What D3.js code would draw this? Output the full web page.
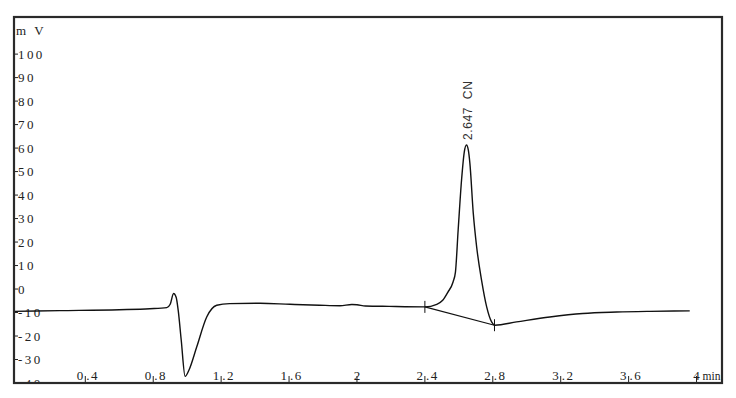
<!DOCTYPE html>
<html><head><meta charset="utf-8">
<script src="https://cdn.jsdelivr.net/npm/d3@7"></script>
<style>html,body{margin:0;padding:0;background:#fff;}svg{display:block;}</style>
</head><body>
<script>
// ---- data (time in min, signal in mV) ----
const timeMin = [-0.02,0.25,0.60,0.78,0.88,0.90,0.92,0.935,0.947,0.965,0.988,1.01,1.056,1.115,1.174,1.25,1.43,1.605,1.78,1.90,1.97,2.0,2.05,2.19,2.40,2.47,2.505,2.535,2.566,2.58,2.596,2.616,2.632,2.645,2.656,2.665,2.685,2.705,2.734,2.764,2.793,2.812,2.94,3.136,3.33,3.53,3.725,3.96];
const signalMv = [-9.5,-9.2,-8.8,-8.4,-7.9,-6.5,-1.9,-3.5,-9.0,-21.8,-37.2,-34.6,-24.7,-11.9,-6.9,-6.2,-6.05,-6.5,-6.9,-7.1,-6.6,-6.7,-7.2,-7.4,-7.6,-6.5,-4.8,-1.4,3.0,7.2,25.1,46.4,58.3,61.3,59.1,53.6,32.3,17.9,3.7,-7.6,-14.0,-15.4,-14.0,-11.9,-10.4,-9.8,-9.5,-9.3];
const integrationBaseline = [[2.40,-7.6],[2.81,-15.4]];
const peakLabel = {time:2.647, value:61.3, text:"2.647  CN"};
const yTicks = [100,90,80,70,60,50,40,30,20,10,0,-10,-20,-30,-40];
const xTicks = [0.4,0.8,1.2,1.6,2,2.4,2.8,3.2,3.6,4];
const yUnit = "m V";
const xUnit = "min";

const W=736,H=398;
const L=14,T=17,R=722,B=383;
const svg=d3.select("body").append("svg").attr("width",W).attr("height",H);
const x=d3.scaleLinear().domain([-0.02,4.15]).range([L,R]);
const y=d3.scaleLinear().domain([-40,115.8]).range([B,T]);

svg.append("clipPath").attr("id","clip").append("rect").attr("x",L).attr("y",T).attr("width",R-L).attr("height",B-T);
const g=svg.append("g").attr("clip-path","url(#clip)");

const serif='"Liberation Serif","Times New Roman",serif';

// y ticks
yTicks.forEach(v=>{
  g.append("line").attr("x1",L).attr("x2",L+4).attr("y1",y(v)).attr("y2",y(v)).attr("stroke","#222").attr("stroke-width",1);
  g.append("text").attr("x",L+4).attr("y",y(v)).attr("dy","0.35em")
    .attr("font-family",serif).attr("font-size",13).attr("letter-spacing","2.4px").attr("fill","#222")
    .text(String(v));
});
g.append("text").attr("x",L+2).attr("y",35).attr("font-family",serif).attr("font-size",13).attr("letter-spacing","2.5px").attr("fill","#222").text(yUnit);

// x ticks
xTicks.forEach(t=>{
  const px=x(t);
  g.append("line").attr("x1",px).attr("x2",px).attr("y1",B).attr("y2",B-7).attr("stroke","#222").attr("stroke-width",1);
  const s=String(t);
  const parts=s.split(".");
  if(parts.length===2){
    g.append("text").attr("x",px-2).attr("y",380).attr("text-anchor","end").attr("font-family",serif).attr("font-size",13).attr("fill","#222").text(parts[0]);
    g.append("text").attr("x",px+1).attr("y",380).attr("text-anchor","start").attr("font-family",serif).attr("font-size",13).attr("letter-spacing","1.5px").attr("fill","#222").text("."+parts[1]);
  } else {
    g.append("text").attr("x",px).attr("y",380).attr("text-anchor","middle").attr("font-family",serif).attr("font-size",13).attr("fill","#222").text(s);
  }
});
svg.append("text").attr("x",x(4)+6).attr("y",380).attr("font-family",serif).attr("font-size",11.5).attr("fill","#222").text(xUnit);

// signal
const pts=timeMin.map((t,i)=>[t,signalMv[i]]);
const line=d3.line().x(d=>x(d[0])).y(d=>y(d[1])).curve(d3.curveMonotoneX);
g.append("path").datum(pts).attr("d",line).attr("fill","none").attr("stroke","#111").attr("stroke-width",1.4);

// integration baseline
g.append("path").datum(integrationBaseline).attr("d",d3.line().x(d=>x(d[0])).y(d=>y(d[1])))
  .attr("fill","none").attr("stroke","#111").attr("stroke-width",1.2);
integrationBaseline.forEach(d=>{
  g.append("line").attr("x1",x(d[0])).attr("x2",x(d[0])).attr("y1",y(d[1])-6).attr("y2",y(d[1])+6).attr("stroke","#111").attr("stroke-width",1);
});

// peak label
svg.append("text").attr("transform",`translate(${x(peakLabel.time)+5},${y(peakLabel.value)-5}) rotate(-90)`)
  .attr("font-family",'"Liberation Sans",Arial,sans-serif').attr("font-size",12).attr("letter-spacing","0.6px")
  .attr("fill","#333").style("white-space","pre").text(peakLabel.text);

// frame
svg.append("rect").attr("x",L).attr("y",T).attr("width",R-L).attr("height",B-T)
  .attr("fill","none").attr("stroke","#2a2a2a").attr("stroke-width",2.2);
</script>
</body></html>
